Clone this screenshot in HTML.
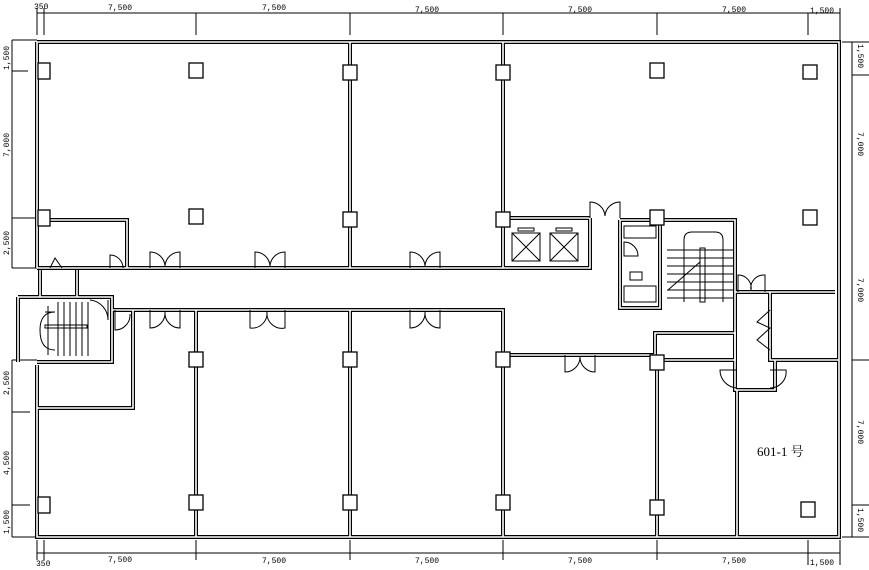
<!DOCTYPE html>
<html><head><meta charset="utf-8"><style>
html,body{margin:0;padding:0;background:#fff;}
svg{display:block;}
text{font-family:"Liberation Mono",monospace;font-size:8px;fill:#000;}
.w{fill:none;stroke:#000;stroke-width:4;}
.wi{fill:none;stroke:#fff;stroke-width:1.6;}
.t{fill:none;stroke:#000;stroke-width:1;}
.p{fill:#fff;stroke:#000;stroke-width:1.3;}
</style></head><body>
<svg width="869" height="570" viewBox="0 0 869 570" xmlns="http://www.w3.org/2000/svg">
<rect width="869" height="570" fill="#fff"/>
<defs>
<g id="walls" fill="none">
<path d="M37,42 H839 V537 H37 V365 M37,42 V268"/>
<path d="M37,220 H127 V268 M37,268 H503 M503,42 V268 M350,42 V268"/>
<path d="M40,270 V297 M77,270 V297 M18,297 H112 V362 H37 M18,297 V362"/>
<path d="M112,310 H503 V355 M133,310 V408 H37"/>
<path d="M196,310 V537 M350,310 V537 M503,355 V537 M657,362 V537 M737,390 V537"/>
<path d="M503,355 H655 V333 H735 V360 H655"/>
<path d="M503,218 H590 M620,220 H735 V307 M620,220 V308 H660 V220 M503,268 H590 V218"/>
<path d="M735,292 H835 M770,292 V360 H839 M735,307 V390 H775 V360"/>
</g>
</defs>
<g class="t">
<path d="M37,13 H840 M37,8V35 M44,8V35 M196,13V35 M350,13V35 M503,13V35 M657,13V35 M808,13V35 M840,8V40"/>
<path d="M37,553 H840 M37,540V560 M44,540V560 M196,540V560 M350,540V560 M503,540V560 M657,540V560 M808,540V565 M840,540V565"/>
<path d="M12,40 V268 M12,40H37 M12,71H28 M12,218H37 M12,268H37"/>
<path d="M12,360 V537 M12,360H37 M12,412H30 M12,505H30 M12,537H37"/>
<path d="M852,42 V537 M842,42H869 M852,75H869 M852,360H869 M852,505H869 M842,537H869"/>
</g>
<text x="34" y="9">350</text>
<text x="108" y="10">7,500</text>
<text x="262" y="10">7,500</text>
<text x="415" y="12">7,500</text>
<text x="568" y="12">7,500</text>
<text x="722" y="12">7,500</text>
<text x="810" y="13">1,500</text>
<text x="36" y="566">350</text>
<text x="108" y="562">7,500</text>
<text x="262" y="563">7,500</text>
<text x="415" y="563">7,500</text>
<text x="568" y="563">7,500</text>
<text x="722" y="563">7,500</text>
<text x="810" y="565">1,500</text>
<g transform="rotate(-90)">
<text x="-70" y="9">1,500</text>
<text x="-157" y="9">7,000</text>
<text x="-255" y="9">2,500</text>
<text x="-395" y="9">2,500</text>
<text x="-475" y="9">4,500</text>
<text x="-534" y="9">1,500</text>
</g>
<g transform="rotate(90)">
<text x="44" y="-858">1,500</text>
<text x="132" y="-858">7,000</text>
<text x="278" y="-858">7,000</text>
<text x="420" y="-858">7,000</text>
<text x="508" y="-858">1,500</text>
</g>
<g class="w"><use href="#walls"/></g>
<g class="wi"><use href="#walls"/></g>
<g class="t">
<rect x="512" y="233" width="28" height="28"/><path d="M512,233L540,261M540,233L512,261"/>
<rect x="550" y="233" width="28" height="28"/><path d="M550,233L578,261M578,233L550,261"/>
<rect x="518" y="228" width="16" height="3"/><rect x="556" y="228" width="16" height="3"/>
<rect x="624" y="226" width="32" height="12"/><rect x="624" y="286" width="32" height="16"/>
<path d="M624,242 A14,14 0 0 1 638,256 H624 Z"/>
<rect x="630" y="272" width="12" height="8"/>
<path d="M667,250 H733 M667,258 H733 M667,266 H733 M667,274 H733 M667,282 H733 M667,290 H733 M667,298 H733"/>
<path d="M684,302 V240 Q684,232 692,232 H715 Q723,232 723,240 V302"/><rect x="700" y="248" width="5" height="54"/>
<path d="M668,290 L700,262"/>
<path d="M48,306 V355 M45,312 H55 Q40,312 40,330 Q40,350 55,350 M58,302 V356 M64,302 V356 M70,302 V356 M76,302 V356 M82,302 V356 M88,302 V356"/>
<rect x="45" y="325" width="42" height="3"/>
<path d="M90,300 A20,20 0 0 1 108,320 V300"/>
</g>
<g class="t">
<path d="M150,268 V252 A15,15 0 0 1 165,266 A15,15 0 0 1 180,252 V268"/>
<path d="M255,268 V252 A15,15 0 0 1 270,266 A15,15 0 0 1 285,252 V268"/>
<path d="M410,268 V252 A15,15 0 0 1 425,266 A15,15 0 0 1 440,252 V268"/>
<path d="M150,310 V328 A15,15 0 0 0 165,312 A15,15 0 0 0 180,328 V310"/>
<path d="M250,310 V328 A15,15 0 0 0 267,312 A15,15 0 0 0 285,328 V310"/>
<path d="M410,310 V328 A15,15 0 0 0 425,312 A15,15 0 0 0 440,328 V310"/>
<path d="M565,355 V372 A15,15 0 0 0 580,357 A15,15 0 0 0 595,372 V355"/>
<path d="M590,218 V202 A15,15 0 0 1 605,216 A15,15 0 0 1 620,202 V218"/>
<path d="M738,292 V275 A13,13 0 0 1 751,290 A13,13 0 0 1 765,275 V292"/>
<path d="M770,310 L757,322 L770,328 L757,340 L770,350"/>
<path d="M110,268 V255 A13,13 0 0 1 123,268"/>
<path d="M50,268 L55,258 L62,268"/>
<path d="M115,310 V330 A15,15 0 0 0 130,314"/>
<path d="M737,370 H720 A18,18 0 0 0 737,388"/>
<path d="M770,370 H786 A16,16 0 0 1 770,388"/>
</g>
<g class="p">
<rect x="189" y="63" width="14" height="15"/><rect x="650" y="63" width="14" height="15"/><rect x="803" y="65" width="14" height="14"/>
<rect x="189" y="209" width="14" height="15"/><rect x="803" y="210" width="14" height="15"/><rect x="801" y="502" width="14" height="15"/>
<rect x="343" y="65" width="14" height="15"/><rect x="496" y="65" width="14" height="15"/>
<rect x="343" y="212" width="14" height="15"/><rect x="496" y="212" width="14" height="15"/><rect x="650" y="210" width="14" height="15"/>
<rect x="189" y="352" width="14" height="15"/><rect x="343" y="352" width="14" height="15"/><rect x="496" y="352" width="14" height="15"/><rect x="650" y="355" width="14" height="15"/>
<rect x="189" y="495" width="14" height="15"/><rect x="343" y="495" width="14" height="15"/><rect x="496" y="495" width="14" height="15"/><rect x="650" y="500" width="14" height="15"/>
<rect x="38" y="63" width="12" height="16"/><rect x="38" y="210" width="12" height="16"/><rect x="38" y="497" width="12" height="16"/>
</g>
<text x="757" y="456" style="font-family:'Liberation Serif','Noto Serif CJK SC',serif;font-size:13px;">601-1 号</text>
</svg>
</body></html>
